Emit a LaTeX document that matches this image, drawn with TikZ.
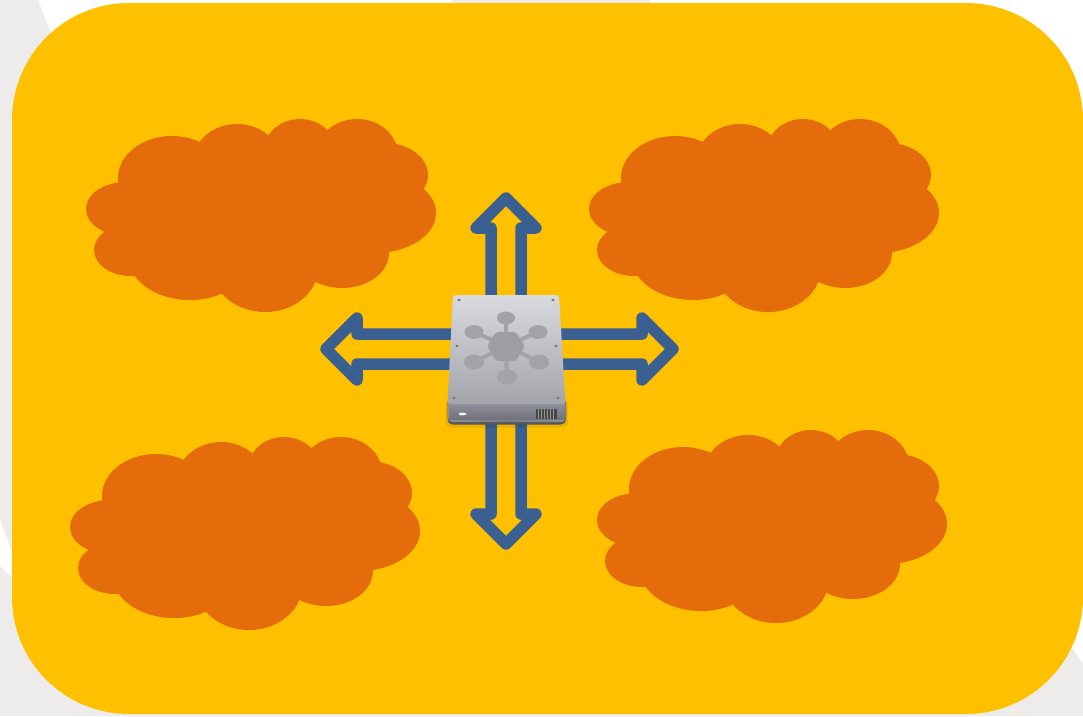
\documentclass[tikz,border=0pt]{standalone}
\usetikzlibrary{calc}
\definecolor{panelyellow}{HTML}{FFC000}
\definecolor{cloudorange}{HTML}{E46C0A}
\definecolor{arrowblue}{HTML}{3A6091}
\definecolor{bggray}{HTML}{EDECEB}
\definecolor{iconball}{HTML}{A1A3A8}
\definecolor{iconhub}{HTML}{9C9EA3}
\definecolor{screwgray}{HTML}{74767B}
\definecolor{disktop}{HTML}{D9DBDF}
\definecolor{diskbottom}{HTML}{A2A4AA}
\definecolor{frontlight}{HTML}{8E919A}
\definecolor{frontdark}{HTML}{70737B}
\definecolor{frontedge}{HTML}{55575E}
\tikzset{
  arrowline/.style={draw=arrowblue,line width=11.5pt,line join=round,line cap=round,fill=none},
  lobe/.style={fill=cloudorange,draw=none},
  iconpart/.style={fill=iconball,draw=none},
  screw/.style={fill=screwgray,draw=none}
}
\newcommand{\cloudshape}[2]{%
\begin{scope}[shift={(#1,#2)}]
  \fill[lobe] (172,178) ellipse [x radius=54,y radius=42];
  \fill[lobe] (237,162) ellipse [x radius=44,y radius=38];
  \fill[lobe] (300,151) ellipse [x radius=36,y radius=32];
  \fill[lobe] (357,155) ellipse [x radius=41,y radius=36];
  \fill[lobe] (385,175) ellipse [x radius=43,y radius=32];
  \fill[lobe] (375,213) ellipse [x radius=61,y radius=40];
  \fill[lobe] (342,253) ellipse [x radius=47,y radius=35];
  \fill[lobe] (265,268) ellipse [x radius=53,y radius=44];
  \fill[lobe] (190,256) ellipse [x radius=62,y radius=44];
  \fill[lobe] (131,250) ellipse [x radius=37,y radius=26];
  \fill[lobe] (126,209) ellipse [x radius=40,y radius=27];
  \fill[lobe] (130,190) -- (230,150) -- (380,150) -- (400,230) -- (330,270) -- (180,280) -- (120,240) -- cycle;
\end{scope}}
\newcommand{\outarrow}[7]{%
  \draw[arrowline] ($(disk)+(#1)$) -- ($(disk)+(#2)$) -- ($(disk)+(#3)$) -- ($(disk)+(#4)$) -- ($(disk)+(#5)$) -- ($(disk)+(#6)$) -- ($(disk)+(#7)$);%
}
\begin{document}
\begin{tikzpicture}[x=1pt,y=-1pt]
\useasboundingbox (0,0) rectangle (1083,716);
\begin{scope}
\clip (0,0) rectangle (1083,716);
\fill[white] (0,0) rectangle (1083,716);
% background remains behind the panel
\fill[bggray] (0,0) -- (38,0) -- (52,36) -- (20,120) -- (20,600) -- (0,600) -- cycle;
\fill[white] (0,520) -- (12,552) -- (12,578) -- (0,566) -- cycle;
\fill[bggray] (0,566) -- (12,578) -- (100,640) -- (1030,620) -- (1072,648) -- (1083,664) -- (1083,716) -- (0,716) -- cycle;
\fill[bggray] (448,8) -- (452,0) -- (650,0) -- (654,8) -- cycle;
% panel
\fill[panelyellow,rounded corners=117pt] (12,3) rectangle (1083,714);
% clouds
\cloudshape{0}{0}
\cloudshape{503}{0}
\cloudshape{-16}{318}
\cloudshape{511}{311}
\end{scope}
\coordinate (disk) at (506,349);
% arrows
\outarrow{-15,-40}{-15,-121}{-30,-121}{0,-151}{30,-121}{15,-121}{15,-40}
\outarrow{-15,60}{-15,165}{-30,165}{0,195}{30,165}{15,165}{15,60}
\outarrow{-40,-15}{-149,-15}{-149,-31}{-180,0}{-149,31}{-149,15}{-40,15}
\outarrow{40,-15}{136,-15}{136,-31}{167,0}{136,31}{136,15}{40,15}
% disk shadow
\fill[black,opacity=.08,rounded corners=5pt] (445.5,400) -- (568,400) -- (568,427.5) -- (445.5,427.5) -- cycle;
% disk front
\fill[frontedge,rounded corners=5pt] (447.5,398) -- (566,398) -- (566,424.5) -- (447.5,424.5) -- cycle;
\path[left color=frontlight,right color=frontlight,middle color=frontdark!70!frontlight,rounded corners=4pt]
  (448,398) -- (565.5,398) -- (565.5,422) -- (448,422) -- cycle;
\path[top color=frontlight,bottom color=frontdark] (449,403) rectangle (565,419);
% disk top
\path[top color=disktop,bottom color=diskbottom,rounded corners=3pt]
  (453,295) -- (559,295) -- (565.5,404) -- (447.5,404) -- cycle;
% icon
\foreach \bx/\by/\rx/\ry in {506/318/9/6.5,474/332/9.5/7,538/332/9.5/7,474/362/10/7.5,539/362/10/7.5,507/377/10/7.5}{
  \draw[iconball,line width=4pt] (506,346) -- (\bx,\by);
  \fill[iconpart] (\bx,\by) ellipse [x radius=\rx,y radius=\ry];
}
\fill[iconhub,rounded corners=3pt] (487,346) -- (496,332) -- (516,332) -- (525,346) -- (516,361) -- (496,361) -- cycle;
% screws
\foreach \sx/\sy in {459/300,553/300,457/346,556/346,454/398,558/398}{
  \fill[screw] (\sx,\sy) ellipse [x radius=1.8,y radius=1.3];
}
% LED
\fill[white!88!gray] (462.5,414) ellipse [x radius=4,y radius=1.4];
% vent
\fill[black!72] (535.5,409) rectangle (557,419);
\foreach \vx in {538.5,541.5,...,556}{
  \draw[black!42,line width=.7pt] (\vx,409) -- (\vx,419);
}
\end{tikzpicture}
\end{document}
